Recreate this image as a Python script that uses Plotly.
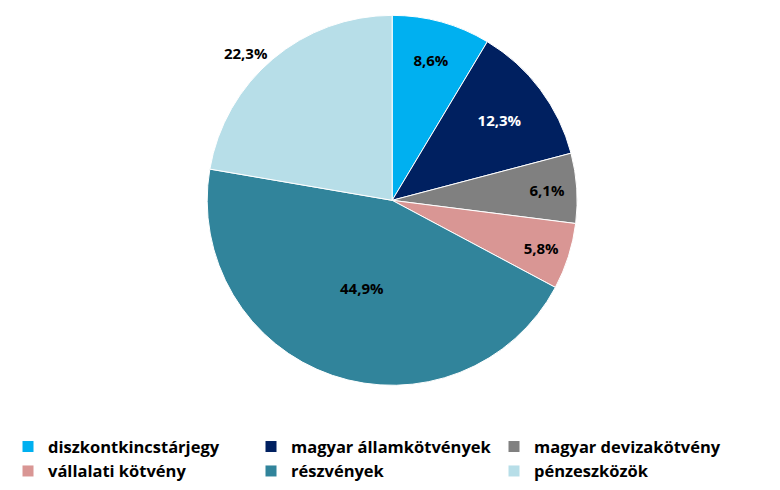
import plotly.graph_objects as go

categories = ["diszkontkincstárjegy", "magyar államkötvények", "magyar devizakötvény",
              "vállalati kötvény", "részvények", "pénzeszközök"]
values = [8.6, 12.3, 6.1, 5.8, 44.9, 22.3]
colors = ["#00B0F0", "#002060", "#808080", "#D99694", "#31849B", "#B7DEE8"]
text_colors = ["black", "white", "black", "black", "black", "black"]
text_pos = ["inside", "inside", "inside", "inside", "inside", "outside"]

fig = go.Figure(go.Pie(
    labels=categories,
    values=values,
    sort=False,
    direction="clockwise",
    rotation=0,
    marker=dict(colors=colors, line=dict(color="white", width=1)),
    texttemplate="%{percent:.1%}",
    textposition=text_pos,
    insidetextfont=dict(color=text_colors, size=15, family="Open Sans", weight="bold"),
    outsidetextfont=dict(color="black", size=15, family="Open Sans", weight="bold"),
    insidetextorientation="horizontal",
    hoverinfo="label+percent",
    domain=dict(x=[0, 0.985], y=[0.23, 0.985]),
))

fig.update_layout(
    width=780, height=490,
    margin=dict(l=0, r=0, t=0, b=0, autoexpand=False),
    paper_bgcolor="white",
    separators=", ",
    font=dict(family="Open Sans", color="black"),
    showlegend=True,
    legend=dict(
        orientation="h",
        x=0.0, y=0.08, xanchor="left", yanchor="middle",
        entrywidth=198,
        font=dict(size=16.5, family="Open Sans", weight="bold", color="black"),
        bgcolor="rgba(0,0,0,0)",
    ),
)

fig.write_html("out.html")
